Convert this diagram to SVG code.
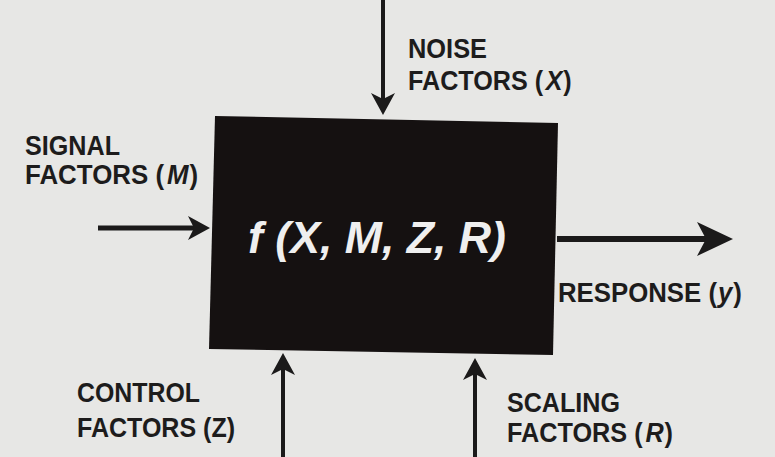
<svg xmlns="http://www.w3.org/2000/svg" width="775" height="457" viewBox="0 0 775 457">
  <style>
    .lbl { font-family: "Liberation Sans", Arial, sans-serif; font-weight: bold; font-size: 28px; fill: #1d1c1c; }
    .it { font-style: italic; }
    .fn { font-family: "Liberation Sans", Arial, sans-serif; font-weight: bold; font-style: italic; font-size: 44px; fill: #efefef; }
    .shaft { stroke: #1b1a1a; fill: none; stroke-linecap: butt; }
  </style>
  <defs>
    <marker id="headS" markerUnits="userSpaceOnUse" viewBox="0 0 22 24" markerWidth="22" markerHeight="24" refX="14" refY="12" orient="auto">
      <path d="M0,0 L22,12 L0,24 L6,12 Z" fill="#1b1a1a"/>
    </marker>
    <marker id="headL" markerUnits="userSpaceOnUse" viewBox="0 0 36 34" markerWidth="36" markerHeight="34" refX="26" refY="17" orient="auto">
      <path d="M0,0 L36,17 L0,34 L9,17 Z" fill="#1b1a1a"/>
    </marker>
  </defs>
  <rect x="0" y="0" width="775" height="457" fill="#e7e7e5"/>

  <g id="connectors">
    <line class="shaft" x1="383" y1="0" x2="383" y2="107" stroke-width="4" marker-end="url(#headS)"/>
    <line class="shaft" x1="98" y1="228" x2="202" y2="228" stroke-width="5" marker-end="url(#headS)"/>
    <line class="shaft" x1="557" y1="239" x2="723" y2="239" stroke-width="6" marker-end="url(#headL)"/>
    <line class="shaft" x1="283" y1="457" x2="283" y2="361" stroke-width="4" marker-end="url(#headS)"/>
    <line class="shaft" x1="475" y1="457" x2="475" y2="366" stroke-width="4" marker-end="url(#headS)"/>
  </g>

  <g id="system">
    <polygon points="215,116 558,123 553,355 209,349" fill="#151111"/>
    <text class="fn" transform="translate(248,253) scale(1.015,1)">f (X, M, Z, R)</text>
  </g>

  <g id="noise">
    <text class="lbl" transform="translate(408,58) scale(0.907,1)">NOISE</text>
    <g transform="translate(408,90) scale(0.898,1)">
      <text class="lbl" x="0" y="0">FACTORS (</text>
      <text class="lbl it" x="153.5" y="0">X</text>
      <text class="lbl" x="173" y="0">)</text>
    </g>
  </g>

  <g id="signal">
    <text class="lbl" transform="translate(25,155) scale(0.898,1)">SIGNAL</text>
    <g transform="translate(25,184) scale(0.925,1)">
      <text class="lbl" x="0" y="0">FACTORS (</text>
      <text class="lbl it" x="153.5" y="0">M</text>
      <text class="lbl" x="177.8" y="0">)</text>
    </g>
  </g>

  <g id="response">
    <g transform="translate(558,302) scale(0.921,1)">
      <text class="lbl" x="0" y="0">RESPONSE (</text>
      <text class="lbl it" x="173.8" y="0">y</text>
      <text class="lbl" x="190.4" y="0">)</text>
    </g>
  </g>

  <g id="control">
    <text class="lbl" transform="translate(77,402) scale(0.889,1)">CONTROL</text>
    <text class="lbl" transform="translate(77,437) scale(0.894,1)">FACTORS (Z)</text>
  </g>

  <g id="scaling">
    <text class="lbl" transform="translate(507,412) scale(0.897,1)">SCALING</text>
    <g transform="translate(507,442) scale(0.902,1)">
      <text class="lbl" x="0" y="0">FACTORS (</text>
      <text class="lbl it" x="153.5" y="0">R</text>
      <text class="lbl" x="174.7" y="0">)</text>
    </g>
  </g>
</svg>
